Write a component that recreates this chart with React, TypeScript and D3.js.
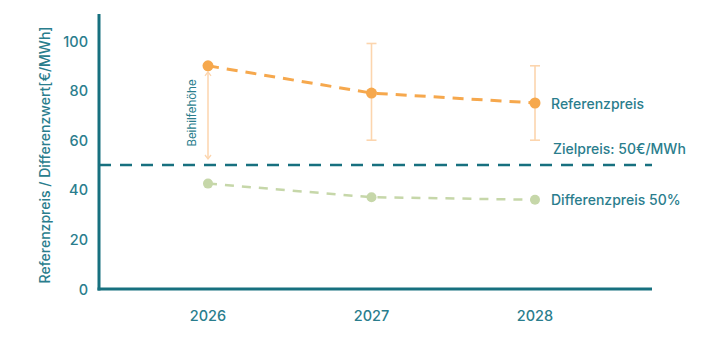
import React from "react";
import * as d3 from "d3";

const years = [2026, 2027, 2028];
const referenzpreis = [90, 79, 75];
const referenzLow = [null, 60, 60];
const referenzHigh = [null, 99, 90];
const differenzpreis = [42.5, 37, 36];
const zielpreis = 50;
const yTicks = [0, 20, 40, 60, 80, 100];

const W = 703;
const H = 345;
const TEAL = "#17707f";
const TEXT = "#2a7d8d";
const ORANGE = "#f6a84d";
const ORANGE_LIGHT = "#fcd5ae";
const GREEN = "#c6d7a9";
const FONT = "Inter, 'Noto Sans', sans-serif";

export default function App() {
  const x = d3.scaleLinear().domain([2026, 2028]).range([208, 535]);
  const y = d3.scaleLinear().domain([0, 100]).range([289, 41]);
  const axisLeft = 99;
  const axisRight = 652;
  const axisTop = 14;

  const line = d3
    .line<number>()
    .x((_, i) => x(years[i]))
    .y((d) => y(d));

  return (
    <div style={{ position: "fixed", left: 0, top: 0, width: W, height: H, background: "#fff" }}>
      <svg width={W} height={H} style={{ display: "block", fontFamily: FONT }}>
        {/* y tick labels */}
        {yTicks.map((t) => (
          <text
            key={t}
            x={88}
            y={y(t)}
            textAnchor="end"
            dominantBaseline="central"
            fontSize={14.5}
            fontWeight={500}
            fill={TEXT}
          >
            {t}
          </text>
        ))}
        {/* y axis title */}
        <text
          transform={`translate(44,155) rotate(-90)`}
          textAnchor="middle"
          dominantBaseline="central"
          fontSize={14}
          fontWeight={500}
          fill={TEXT}
        >
          Referenzpreis / Differenzwert[€/MWh]
        </text>
        {/* x tick labels */}
        {years.map((yr) => (
          <text
            key={yr}
            x={x(yr)}
            y={315}
            textAnchor="middle"
            dominantBaseline="central"
            fontSize={14.5}
            fontWeight={500}
            fill={TEXT}
          >
            {yr}
          </text>
        ))}

        {/* Zielpreis line */}
        <line
          x1={axisLeft}
          x2={axisRight}
          y1={y(zielpreis)}
          y2={y(zielpreis)}
          stroke={TEAL}
          strokeWidth={2.5}
          strokeDasharray="12 9"
        />

        {/* Beihilfehöhe arrow */}
        <line x1={x(2026)} x2={x(2026)} y1={y(referenzpreis[0]) + 6} y2={y(zielpreis) - 6} stroke={ORANGE_LIGHT} strokeWidth={1.5} />
        <path
          d={`M${x(2026) - 3},${y(referenzpreis[0]) + 10} L${x(2026)},${y(referenzpreis[0]) + 6} L${x(2026) + 3},${y(referenzpreis[0]) + 10}`}
          fill="none"
          stroke={ORANGE_LIGHT}
          strokeWidth={1.3}
        />
        <path
          d={`M${x(2026) - 3},${y(zielpreis) - 10} L${x(2026)},${y(zielpreis) - 6} L${x(2026) + 3},${y(zielpreis) - 10}`}
          fill="none"
          stroke={ORANGE_LIGHT}
          strokeWidth={1.3}
        />
        <text
          transform={`translate(192,113) rotate(-90)`}
          textAnchor="middle"
          dominantBaseline="central"
          fontSize={11.5}
          fill={TEXT}
        >
          Beihilfehöhe
        </text>

        {/* error bars */}
        {years.map((yr, i) => {
          const lo = referenzLow[i];
          const hi = referenzHigh[i];
          if (lo == null || hi == null) return null;
          const cx = x(yr);
          return (
            <g key={yr} stroke={ORANGE_LIGHT} strokeWidth={1.6}>
              <line x1={cx} x2={cx} y1={y(hi)} y2={y(lo)} />
              <line x1={cx - 5} x2={cx + 5} y1={y(hi)} y2={y(hi)} />
              <line x1={cx - 5} x2={cx + 5} y1={y(lo)} y2={y(lo)} />
            </g>
          );
        })}

        {/* Differenzpreis */}
        <path d={line(differenzpreis) || ""} fill="none" stroke={GREEN} strokeWidth={2.5} strokeDasharray="9 8" />
        {differenzpreis.map((v, i) => (
          <circle key={i} cx={x(years[i])} cy={y(v)} r={5} fill={GREEN} />
        ))}

        {/* Referenzpreis */}
        <path d={line(referenzpreis) || ""} fill="none" stroke={ORANGE} strokeWidth={3} strokeDasharray="11 8" />
        {referenzpreis.map((v, i) => (
          <circle key={i} cx={x(years[i])} cy={y(v)} r={5.5} fill={ORANGE} />
        ))}

        {/* labels */}
        <text x={551} y={y(referenzpreis[2])} dominantBaseline="central" fontSize={14} fontWeight={500} fill={TEXT}>
          Referenzpreis
        </text>
        <text x={553} y={148} dominantBaseline="central" fontSize={14} fontWeight={500} fill={TEXT}>
          Zielpreis: 50€/MWh
        </text>
        <text x={551} y={y(differenzpreis[2])} dominantBaseline="central" fontSize={14} fontWeight={500} fill={TEXT}>
          Differenzpreis 50%
        </text>

        {/* axes */}
        <line x1={axisLeft} x2={axisLeft} y1={axisTop} y2={y(0) + 1.5} stroke={TEAL} strokeWidth={3} />
        <line x1={axisLeft - 1.5} x2={axisRight} y1={y(0)} y2={y(0)} stroke={TEAL} strokeWidth={3} />
      </svg>
    </div>
  );
}
